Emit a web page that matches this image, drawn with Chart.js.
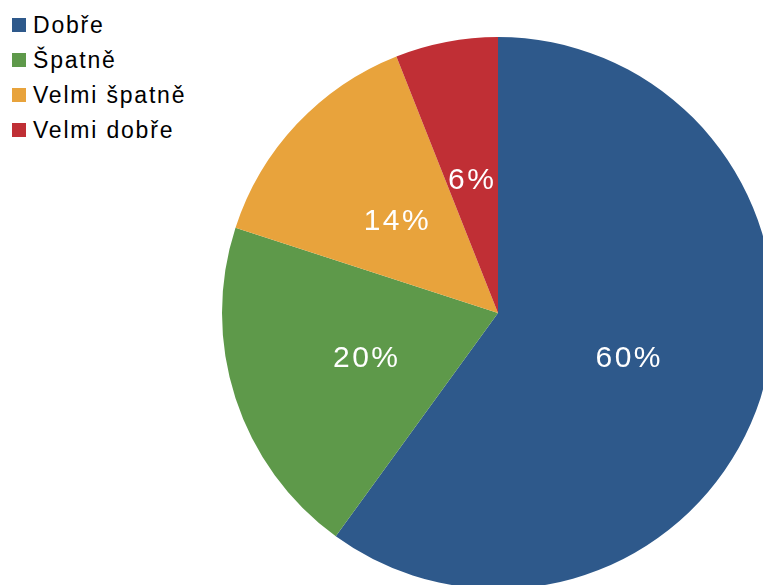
<!DOCTYPE html>
<html>
<head>
<meta charset="utf-8">
<script src="https://cdn.jsdelivr.net/npm/chart.js@4"></script>
<style>
  html, body { margin: 0; padding: 0; width: 763px; height: 585px; overflow: hidden; background: #fff; }
  #legend { position: absolute; left: 12px; top: 18px; margin: 0; padding: 0; list-style: none;
            font-family: "Liberation Sans", Arial, sans-serif; font-size: 23px; letter-spacing: 1.8px; color: #000; }
  #legend li { display: flex; align-items: center; height: 14px; margin-bottom: 21px; white-space: nowrap; }
  #legend .box { width: 14px; height: 14px; margin-right: 7px; flex: none; }
  #pie { position: absolute; left: 222px; top: 37px; }
</style>
</head>
<body>
<ul id="legend"></ul>
<canvas id="pie" width="552" height="552"></canvas>
<script>
// Survey answers and their shares (percent)
const categories = ["Dobře", "Špatně", "Velmi špatně", "Velmi dobře"];
const shares = [60, 20, 14, 6];
const sliceColors = ["#2e598b", "#5e994a", "#e8a33c", "#c02f35"];

// Percent text written in the middle of each slice
const sliceLabels = {
  id: "sliceLabels",
  afterDatasetsDraw(chart) {
    const ctx = chart.ctx;
    const data = chart.data.datasets[0].data;
    const total = data.reduce((a, b) => a + b, 0);
    ctx.save();
    ctx.fillStyle = "#ffffff";
    ctx.font = "30px 'Liberation Sans', Arial, sans-serif";
    if ("letterSpacing" in ctx) ctx.letterSpacing = "2.5px";
    ctx.textAlign = "center";
    ctx.textBaseline = "middle";
    chart.getDatasetMeta(0).data.forEach((arc, i) => {
      const p = arc.tooltipPosition();
      const pct = Math.round(data[i] / total * 100) + "%";
      ctx.fillText(pct, p.x, p.y + 3);
    });
    ctx.restore();
  }
};

const chart = new Chart(document.getElementById("pie"), {
  type: "pie",
  data: {
    labels: categories,
    datasets: [{
      data: shares,
      backgroundColor: sliceColors,
      borderWidth: 0
    }]
  },
  options: {
    responsive: false,
    animation: false,
    layout: { padding: 0 },
    plugins: {
      legend: { display: false },
      tooltip: { enabled: false }
    }
  },
  plugins: [sliceLabels]
});

// Legend list built from the chart's own labels and colours
const legend = document.getElementById("legend");
chart.data.labels.forEach((label, i) => {
  const li = document.createElement("li");
  const box = document.createElement("span");
  box.className = "box";
  box.style.background = chart.data.datasets[0].backgroundColor[i];
  const txt = document.createElement("span");
  txt.textContent = label;
  li.appendChild(box);
  li.appendChild(txt);
  legend.appendChild(li);
});
</script>
</body>
</html>
